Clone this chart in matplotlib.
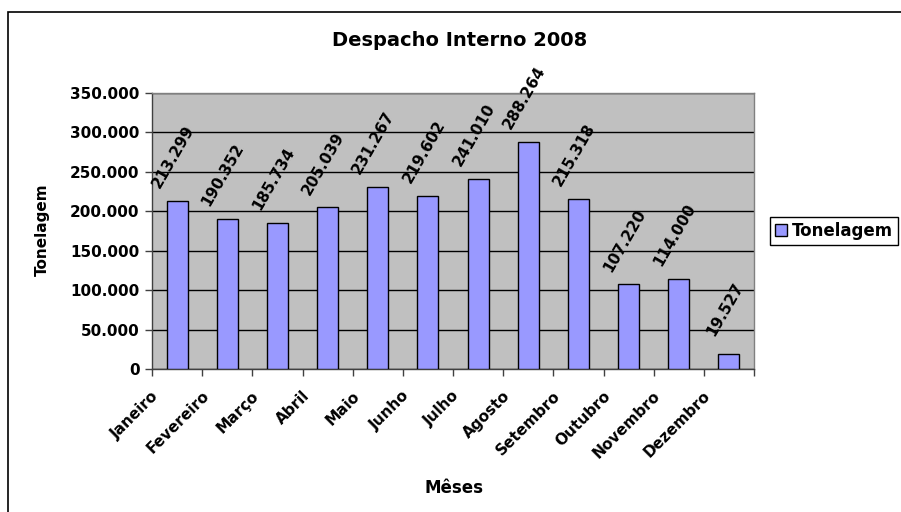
import numpy as np
import matplotlib.pyplot as plt
from matplotlib.patches import Rectangle
from matplotlib.ticker import FuncFormatter, FixedLocator
from matplotlib.transforms import ScaledTranslation

plt.rcParams['font.family'] = ['DejaVu Sans']

meses = ['Janeiro', 'Fevereiro', 'Março', 'Abril', 'Maio', 'Junho', 'Julho',
         'Agosto', 'Setembro', 'Outubro', 'Novembro', 'Dezembro']
tonelagem = [213299, 190352, 185734, 205039, 231267, 219602, 241010,
             288264, 215318, 107220, 114000, 19527]


def fmt_pt(v):
    return f"{int(v):,}".replace(',', '.')


fig = plt.figure(figsize=(9.01, 5.12), dpi=100)
fig.patch.set_facecolor('white')

# outer chart frame (runs off the right and bottom edges)
fig.patches.append(Rectangle((8 / 901, -0.05), 1.0, 1 - 12 / 512 + 0.05,
                             transform=fig.transFigure, fill=False,
                             edgecolor='black', linewidth=1.2))

ax = fig.add_axes([152 / 901, (512 - 369) / 512, 602 / 901, 276 / 512])
ax.set_facecolor('#C0C0C0')

x = np.arange(len(meses))
bars = ax.bar(x, tonelagem, width=0.42, color='#9999FF', edgecolor='black',
              linewidth=1.0, zorder=3, label='Tonelagem')

ax.set_xlim(-0.5, len(meses) - 0.5)
ax.set_ylim(0, 350000)
ax.set_yticks(np.arange(0, 350001, 50000))
ax.yaxis.set_major_formatter(FuncFormatter(lambda v, p: fmt_pt(v)))
ax.grid(axis='y', color='black', linewidth=1.0, zorder=1)
ax.set_axisbelow(True)

# ticks at the category boundaries, labels at the centres
ax.xaxis.set_major_locator(FixedLocator(np.arange(-0.5, len(meses), 1.0)))
ax.xaxis.set_minor_locator(FixedLocator(x))
ax.set_xticklabels([], minor=False)
ax.set_xticklabels(meses, minor=True, rotation=45, ha='right',
                   rotation_mode='anchor', fontsize=11, fontweight='bold')
ax.tick_params(axis='x', which='major', length=5, width=1, color='#404040')
ax.tick_params(axis='x', which='minor', length=0, pad=14)
ax.tick_params(axis='y', length=5, width=1, color='#404040', labelsize=11,
               pad=4)
for lbl in ax.get_yticklabels():
    lbl.set_fontweight('bold')
shift = ScaledTranslation(-26 / 100, 0, fig.dpi_scale_trans)
for lbl in ax.xaxis.get_minorticklabels():
    lbl.set_transform(lbl.get_transform() + shift)

for side in ['top', 'right']:
    ax.spines[side].set_color('#808080')
for side in ['left', 'bottom']:
    ax.spines[side].set_color('#404040')
for s in ax.spines.values():
    s.set_linewidth(1.0)

# value labels above each bar
for xi, v in zip(x, tonelagem):
    ax.annotate(fmt_pt(v), xy=(xi, v), xytext=(-4, 44),
                textcoords='offset pixels', ha='center', va='center',
                rotation=60, fontsize=11, fontweight='bold', zorder=4)

fig.text(460 / 901, 1 - 40 / 512, 'Despacho Interno 2008', ha='center',
         va='center', fontsize=14, fontweight='bold')
fig.text(42 / 901, 1 - 230 / 512, 'Tonelagem', ha='center', va='center',
         rotation=90, fontsize=11, fontweight='bold')
fig.text(454 / 901, 1 - 488 / 512, 'Mêses', ha='center', va='center',
         fontsize=12, fontweight='bold')

leg = fig.legend(handles=[bars], labels=['Tonelagem'], loc='center left',
                 bbox_to_anchor=(770 / 901, 1 - 231 / 512), frameon=True,
                 fancybox=False, edgecolor='black', framealpha=1,
                 prop={'weight': 'bold', 'size': 12}, handlelength=0.7,
                 handleheight=0.7, handletextpad=0.3, borderpad=0.3,
                 borderaxespad=0)
leg.get_frame().set_linewidth(1.0)

fig.savefig('out.png', dpi=100)
